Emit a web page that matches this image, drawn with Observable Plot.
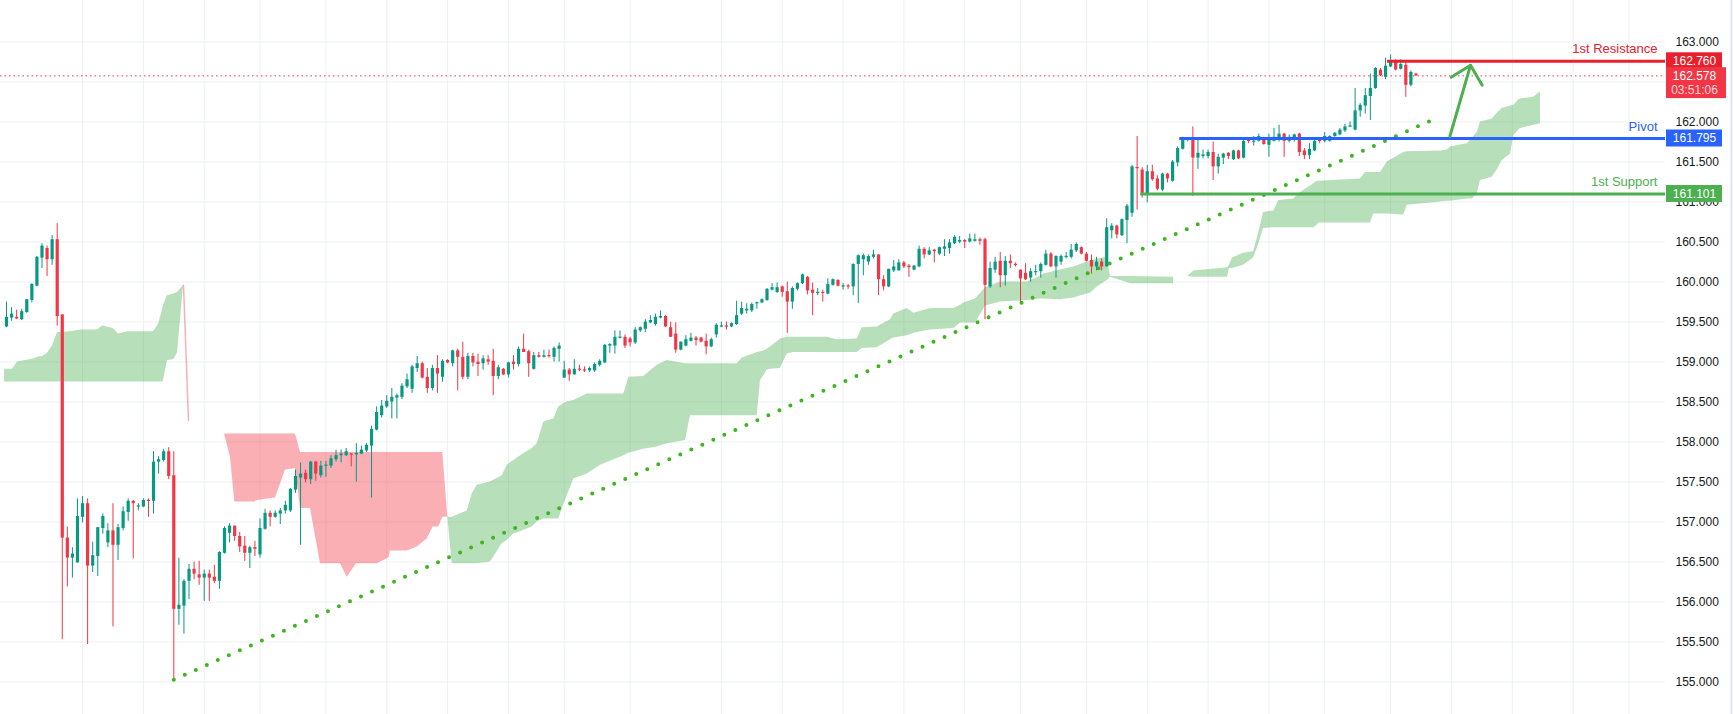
<!DOCTYPE html>
<html><head><meta charset="utf-8">
<script src="https://cdn.jsdelivr.net/npm/d3@7"></script>
<script src="https://cdn.jsdelivr.net/npm/@observablehq/plot@0.6"></script>
<style>
html,body{margin:0;padding:0;background:#fff;}
#chart{width:1733px;height:714px;overflow:hidden;position:relative;}
#chart svg{display:block;}
</style></head><body><div id="chart"></div>
<script>
// ---------- candle data ----------
const opens = [
159.44,159.55,159.56,159.53,159.62,159.77,159.95,160.30,160.42,160.28,
160.53,159.59,156.80,156.55,156.49,157.06,157.23,156.45,156.57,156.92,
156.74,156.89,156.71,156.92,157.12,157.26,157.19,157.19,157.27,157.26,
157.75,157.77,157.88,157.58,155.91,155.95,156.26,156.41,156.34,156.30,
156.35,156.31,156.26,156.61,156.86,156.95,156.82,156.70,156.61,156.68,
156.59,156.91,157.11,157.06,157.10,157.14,157.14,157.40,157.55,157.61,
157.53,157.75,157.58,157.70,157.70,157.78,157.83,157.83,157.85,157.84,
157.85,157.89,157.95,158.15,158.33,158.44,158.50,158.55,158.56,158.69,
158.66,158.92,158.98,158.81,158.67,158.92,158.81,159.02,158.98,159.14,
159.06,158.81,159.07,159.00,158.98,159.03,159.01,158.82,158.91,158.84,
159.00,158.97,159.16,159.13,158.91,159.08,159.06,159.08,159.06,159.16,
158.80,158.90,158.84,158.91,158.90,158.89,158.89,158.96,158.99,159.20,
159.20,159.30,159.31,159.29,159.24,159.39,159.41,159.49,159.47,159.55,
159.57,159.43,159.35,159.15,159.20,159.26,159.30,159.30,159.26,159.19,
159.34,159.44,159.45,159.44,159.47,159.60,159.64,159.64,159.73,159.74,
159.77,159.90,159.87,159.94,159.88,159.75,159.91,159.98,160.06,159.90,
159.86,159.87,159.85,159.96,160.02,159.94,159.95,159.94,160.22,160.28,
160.25,160.31,160.34,160.03,159.94,160.14,160.14,160.24,160.20,160.15,
160.19,160.41,160.34,160.40,160.35,160.41,160.42,160.48,160.50,160.52,
160.50,160.51,160.53,160.53,159.94,160.15,160.26,160.08,160.26,160.22,
160.15,160.11,160.05,160.12,160.13,160.21,160.35,160.19,160.25,160.31,
160.31,160.39,160.43,160.35,160.27,160.19,160.25,160.19,160.64,160.70,
160.58,160.77,160.86,161.43,161.40,161.10,161.38,161.29,161.15,161.35,
161.26,161.49,161.66,161.78,161.79,161.55,161.57,161.57,161.62,161.44,
161.55,161.61,161.53,161.64,161.55,161.77,161.75,161.76,161.80,161.71,
161.76,161.77,161.85,161.76,161.78,161.85,161.64,161.58,161.64,161.77,
161.76,161.76,161.82,161.84,161.89,161.94,161.90,162.14,162.20,162.32,
162.42,162.65,162.56,162.69,162.77,162.66,162.71,162.46,162.60];
const highs = [
159.75,159.68,159.65,159.66,159.78,159.98,160.32,160.48,160.45,160.58,
160.73,159.59,156.94,156.68,157.29,157.32,157.29,156.75,156.93,157.10,
156.98,157.23,156.97,157.19,157.29,157.27,157.23,157.29,157.29,157.88,
157.82,157.91,157.93,157.88,156.55,156.28,156.47,156.50,156.51,156.40,
156.40,156.46,156.63,156.94,156.98,156.95,156.87,156.82,156.70,156.76,
157.04,157.16,157.14,157.14,157.17,157.26,157.42,157.65,157.74,157.65,
157.76,157.76,157.76,157.76,157.83,157.90,157.90,157.92,157.86,157.98,
157.95,157.98,158.20,158.44,158.52,158.58,158.67,158.60,158.73,158.85,
158.96,159.07,159.00,158.92,158.96,159.08,159.03,159.03,159.15,159.16,
159.25,159.11,159.11,159.10,159.08,159.08,159.16,158.96,158.92,159.00,
159.08,159.19,159.35,159.15,159.12,159.12,159.15,159.15,159.19,159.24,
159.01,158.92,159.03,158.96,158.94,158.94,158.99,159.03,159.22,159.23,
159.39,159.39,159.34,159.31,159.43,159.44,159.53,159.58,159.60,159.64,
159.58,159.50,159.49,159.25,159.33,159.36,159.32,159.31,159.35,159.30,
159.48,159.50,159.50,159.49,159.76,159.75,159.73,159.74,159.75,159.79,
159.92,159.98,159.99,159.95,160.00,159.94,159.99,160.10,160.07,159.99,
159.92,159.90,160.04,160.04,160.03,159.98,159.97,160.23,160.34,160.35,
160.34,160.40,160.34,160.08,160.16,160.27,160.28,160.26,160.22,160.21,
160.45,160.43,160.43,160.41,160.44,160.53,160.53,160.58,160.57,160.53,
160.60,160.60,160.55,160.55,160.25,160.31,160.37,160.32,160.34,160.24,
160.15,160.23,160.17,160.21,160.24,160.40,160.37,160.33,160.34,160.37,
160.47,160.49,160.44,160.37,160.34,160.31,160.29,160.79,160.73,160.71,
160.79,160.97,161.46,161.82,161.43,161.46,161.46,161.33,161.36,161.36,
161.52,161.69,161.81,161.80,161.94,161.79,161.65,161.65,161.75,161.60,
161.61,161.62,161.65,161.65,161.77,161.79,161.82,161.85,161.81,161.85,
161.92,161.96,161.86,161.84,161.85,161.86,161.67,161.73,161.77,161.78,
161.87,161.83,161.87,161.92,161.97,162.00,162.42,162.23,162.42,162.60,
162.68,162.67,162.80,162.84,162.78,162.78,162.75,162.64,162.61];
const lows = [
159.43,159.51,159.53,159.52,159.61,159.74,159.94,160.17,160.07,160.21,
159.45,155.53,156.19,156.30,156.49,156.99,155.47,156.37,156.32,156.85,
156.68,155.69,156.52,156.89,157.01,156.54,157.14,157.18,157.06,157.10,
157.60,157.75,157.53,155.02,155.71,155.60,156.03,156.28,156.21,156.01,
156.01,156.23,156.16,156.60,156.74,156.76,156.62,156.51,156.42,156.57,
156.55,156.90,156.94,157.05,156.97,157.10,157.12,157.36,156.71,157.49,
157.47,157.51,157.55,157.56,157.67,157.75,157.74,157.82,157.69,157.50,
157.84,157.87,157.30,158.14,158.30,158.42,158.29,158.29,158.53,158.67,
158.61,158.87,158.79,158.61,158.64,158.61,158.75,158.98,158.94,158.64,
158.78,158.78,158.94,158.82,158.90,158.96,158.58,158.78,158.83,158.80,
158.90,158.94,159.12,158.81,158.90,159.05,159.05,159.05,159.00,159.00,
158.80,158.76,158.84,158.88,158.87,158.87,158.87,158.94,158.98,159.11,
159.10,159.29,159.17,159.19,159.22,159.37,159.37,159.48,159.45,159.54,
159.43,159.31,159.11,159.14,159.19,159.25,159.20,159.24,159.09,159.18,
159.30,159.43,159.40,159.43,159.46,159.58,159.60,159.62,159.66,159.73,
159.76,159.89,159.86,159.81,159.36,159.66,159.89,159.97,159.84,159.58,
159.83,159.75,159.84,159.95,159.94,159.90,159.91,159.83,159.73,160.08,
160.21,160.29,159.83,159.89,159.93,160.12,160.14,160.17,160.06,160.14,
160.18,160.29,160.33,160.24,160.33,160.32,160.35,160.47,160.48,160.42,
160.49,160.50,160.46,159.53,159.92,160.11,159.93,159.95,160.17,160.19,
159.73,160.02,160.00,160.08,160.05,160.20,160.18,160.05,160.21,160.29,
160.29,160.37,160.34,160.25,160.10,160.14,160.14,160.19,160.54,160.54,
160.57,160.48,160.81,160.90,161.05,160.99,161.26,161.14,161.13,161.24,
161.25,161.44,161.65,161.75,161.07,161.41,161.54,161.54,161.27,161.35,
161.47,161.53,161.52,161.53,161.54,161.73,161.70,161.75,161.71,161.56,
161.75,161.75,161.56,161.74,161.75,161.57,161.53,161.53,161.63,161.73,
161.74,161.75,161.81,161.83,161.87,161.93,161.89,162.06,162.10,162.02,
162.41,162.57,162.53,162.68,162.64,162.65,162.31,162.44,162.57];
const closes = [
159.56,159.60,159.54,159.63,159.78,159.97,160.31,160.45,160.28,160.53,
159.57,156.80,156.55,156.60,157.07,157.23,156.45,156.58,156.93,157.07,
156.89,156.71,156.93,157.13,157.26,157.23,157.20,157.27,157.26,157.75,
157.78,157.88,157.57,155.91,155.96,156.26,156.41,156.35,156.30,156.35,
156.30,156.26,156.62,156.92,156.95,156.82,156.69,156.61,156.68,156.66,
156.92,157.11,157.06,157.11,157.14,157.21,157.41,157.57,157.60,157.53,
157.75,157.60,157.70,157.71,157.79,157.83,157.85,157.88,157.84,157.86,
157.90,157.96,158.16,158.37,158.45,158.51,158.56,158.58,158.70,158.78,
158.94,158.98,158.80,158.67,158.92,158.85,159.01,158.99,159.14,159.06,
158.81,159.07,158.99,158.97,159.04,159.00,158.82,158.93,158.84,158.99,
158.97,159.16,159.12,158.98,159.08,159.06,159.08,159.07,159.17,159.20,
158.90,158.84,158.91,158.90,158.89,158.92,158.97,159.01,159.21,159.22,
159.31,159.31,159.20,159.24,159.40,159.43,159.50,159.52,159.56,159.57,
159.44,159.31,159.15,159.25,159.28,159.30,159.27,159.25,159.19,159.28,
159.46,159.45,159.44,159.48,159.58,159.67,159.66,159.72,159.74,159.78,
159.91,159.93,159.93,159.87,159.75,159.92,159.98,160.09,159.89,159.86,
159.87,159.86,159.97,160.03,159.95,159.95,159.94,160.22,160.33,160.33,
160.32,160.34,160.03,159.94,160.16,160.19,160.24,160.19,160.18,160.20,
160.41,160.34,160.39,160.38,160.43,160.44,160.49,160.56,160.52,160.50,
160.54,160.53,160.51,159.96,160.17,160.25,160.08,160.26,160.23,160.21,
160.04,160.03,160.13,160.13,160.22,160.35,160.19,160.32,160.32,160.32,
160.40,160.47,160.35,160.26,160.19,160.25,160.19,160.68,160.70,160.59,
160.78,160.95,161.44,161.42,161.11,161.38,161.28,161.16,161.35,161.29,
161.50,161.67,161.80,161.79,161.55,161.61,161.59,161.62,161.44,161.56,
161.60,161.57,161.64,161.54,161.76,161.76,161.76,161.82,161.72,161.78,
161.81,161.85,161.76,161.81,161.84,161.62,161.58,161.66,161.76,161.76,
161.82,161.82,161.86,161.90,161.94,161.95,162.14,162.21,162.33,162.42,
162.67,162.58,162.70,162.75,162.65,162.72,162.46,162.62,162.578];

// ---------- Ichimoku cloud outlines (bar index, upper, lower) ----------
const cloudA_i   = [-0.39,1.18,2.17,3.75,5.33,6.11,7.10,8.09,9.07,10.06,12.62,14.60,17.95,18.93,21.10,22.09,24.06,28.99,29.98,30.77,30.97,31.76,32.94,33.73,34.91];
const cloudA_top = [158.91,158.91,159.00,159.02,159.04,159.06,159.07,159.11,159.20,159.37,159.38,159.40,159.40,159.45,159.42,159.35,159.38,159.38,159.47,159.65,159.71,159.83,159.85,159.87,159.96];
const cloudA_bot = [158.75,158.75,158.75,158.75,158.75,158.75,158.75,158.75,158.75,158.75,158.75,158.75,158.75,158.75,158.75,158.75,158.75,158.75,158.75,158.75,158.77,159.02,159.03,159.11,159.96];

const sliver_i = [34.91, 35.9];
const sliver_v = [159.96, 158.27];

const cloudB_i   = [43.0,44.18,45.03,48.92,49.51,53.06,55.03,57.0,57.99,59.96,61.93,65.88,67.2,69.03,73.1,75.4,75.74,79.03,81.0,82.98,84.16,85.27,86.06,87.04];
const cloudB_top = [158.10,158.10,158.10,158.10,158.10,158.10,158.10,158.10,157.87,157.87,157.87,157.87,157.87,157.87,157.87,157.87,157.87,157.87,157.87,157.87,157.87,157.87,157.87,157.06];
const cloudB_bot = [158.10,157.81,157.25,157.25,157.27,157.30,157.65,157.67,157.17,157.17,156.48,156.48,156.31,156.48,156.48,156.55,156.64,156.64,156.69,156.79,156.94,156.94,157.06,157.06];

const cloudC_i   = [87.04,87.91,90.87,91.85,92.84,95.46,97.77,98.76,100.06,101.38,103.69,104.67,105.98,107.95,108.93,109.86,110.59,111.89,114.54,117.16,121.76,122.75,125.7,128.34,130.32,133.93,134.91,144.12,145.11,147.40,148.07,148.72,149.37,150.04,150.69,152.66,153.98,155.28,161.87,163.84,167.79,168.78,171.74,174.36,175.0,177.65,178.95,182.25,186.85,188.17,188.82,191.12,193.1,196.06,201.32,203.94,204.6,207.89,210.51,213.16,213.81,215.13,217.1,217.75,221.7,230.18];
const cloudC_top = [157.06,157.06,157.14,157.35,157.46,157.50,157.58,157.71,157.77,157.83,157.92,157.98,158.25,158.29,158.44,158.48,158.50,158.52,158.60,158.60,158.60,158.81,158.82,158.96,159.02,158.98,158.98,158.98,159.05,159.10,159.12,159.13,159.14,159.16,159.19,159.29,159.31,159.31,159.31,159.28,159.29,159.43,159.44,159.53,159.60,159.67,159.61,159.67,159.67,159.71,159.74,159.79,159.93,160.00,160.00,160.07,160.10,160.15,160.19,160.25,160.26,160.29,160.31,160.07,160.07,160.06];
const cloudC_bot = [157.06,156.48,156.48,156.48,156.48,156.50,156.73,156.77,156.85,156.88,156.94,157.00,157.04,157.04,157.04,157.21,157.33,157.54,157.60,157.71,157.83,157.86,157.91,157.94,157.98,158.02,158.33,158.33,158.33,158.33,158.33,158.77,158.83,158.90,158.91,158.92,159.10,159.12,159.12,159.12,159.12,159.17,159.18,159.28,159.30,159.33,159.36,159.40,159.42,159.49,159.49,159.49,159.70,159.75,159.77,159.79,159.79,159.78,159.80,159.85,159.86,159.94,160.02,160.06,159.98,159.98];

const cloudD_i   = [232.99,234.18,240.83,241.22,241.81,243.98,245.96,246.94,247.93,249.96,250.95,253.9,255.23,257.85,258.52,258.84,267.06,268.05,269.03,269.68,271.01,272.33,275.6,276.27,282.84,284.16,284.81,288.11,289.15,290.08,290.73,293.04,294.02,295.01,296.65,297.3,298.29,298.62,301.24,302.56];
const cloudD_top = [160.07,160.14,160.18,160.21,160.30,160.36,160.38,160.60,160.87,160.89,161.02,161.04,161.12,161.23,161.26,161.26,161.29,161.37,161.37,161.37,161.37,161.50,161.62,161.63,161.64,161.65,161.69,161.73,161.80,161.87,162.00,162.04,162.11,162.17,162.20,162.21,162.28,162.29,162.31,162.38];
const cloudD_bot = [160.07,160.06,160.06,160.17,160.17,160.21,160.30,160.46,160.67,160.68,160.68,160.68,160.68,160.68,160.71,160.74,160.74,160.74,160.74,160.85,160.85,160.85,160.84,160.96,161.00,161.01,161.01,161.04,161.04,161.10,161.27,161.31,161.40,161.52,161.60,161.83,161.90,161.92,161.96,161.98];

// ---------- drawings ----------
const trend_i = [33, 281.7];
const trend_v = [155.03, 162.04];
const arrowShaft_i = [284.68, 288.76];
const arrowShaft_v = [161.82, 162.71];
const arrowHead_i = [284.95, 288.76, 291.06];
const arrowHead_v = [162.56, 162.71, 162.46];

const levelNames  = ["1st Resistance", "Pivot", "1st Support"];
const levelValues = [162.760, 161.795, 161.101];
const levelStart  = [272.4, 231.4, 223.7];
const levelColors = ["#e8202e", "#2962ff", "#4caf50"];

const lastPrice = 162.578;
const countdown = "03:51:06";

const priceTicks = d3.range(155, 163.001, 0.5);
const priceLabels = [155, 155.5, 156, 156.5, 157, 157.5, 158, 158.5, 159, 159.5, 160, 160.5, 161, 161.5, 162, 163]; // 162.500 sits under the live-price tag
const timeGrid = [15,27,39,50,63,75,87,99,110,123,141,153,165,177,189,200,213,225,237,249,260,273,285,297,309,320];

// ---------- build tables ----------
const candles = opens.map((o, i) => ({i, open: o, high: highs[i], low: lows[i], close: closes[i]}));
const UP = "#089981", DOWN = "#f23645";
const colorOf = d => d.close >= d.open ? UP : DOWN;
const seg = (is, tops, bots) => is.map((i, k) => ({i, top: tops[k], bot: bots[k]}));
const pts = (is, vs, z) => is.map((i, k) => ({i, v: vs[k], z}));
const levels = levelNames.map((name, k) => ({name, value: levelValues[k], start: levelStart[k], color: levelColors[k]}));

// ---------- layout ----------
const W = 1733, H = 714, AXIS_W = 68;
const X0 = 6, DX = 5.07;              // first bar centre, bar spacing (px)
const PX_PER_UNIT = 80;
const frameW = W - AXIS_W;
const px2i = p => (p - X0) / DX;
const yTop = 163.52, yBottom = yTop - H / PX_PER_UNIT;
const halfBox = 8.5 / PX_PER_UNIT;
const minBody = 1.2 / PX_PER_UNIT;
const bodyLo = d => { const lo = Math.min(d.open, d.close), hi = Math.max(d.open, d.close); return hi - lo < minBody ? (lo + hi) / 2 - minBody / 2 : lo; };
const bodyHi = d => { const lo = Math.min(d.open, d.close), hi = Math.max(d.open, d.close); return hi - lo < minBody ? (lo + hi) / 2 + minBody / 2 : hi; };

const font = "'Liberation Sans', Arial, sans-serif";

const plot = Plot.plot({
  width: W, height: H,
  marginTop: 0, marginBottom: 0, marginLeft: 0, marginRight: AXIS_W,
  x: {type: "linear", domain: [px2i(0), px2i(frameW)], axis: null},
  y: {type: "linear", domain: [yBottom, yTop], axis: null},
  style: {fontFamily: font, fontSize: "12px", color: "#131722", background: "#ffffff", overflow: "visible"},
  marks: [
    Plot.ruleY(priceTicks, {stroke: "#eef0f3", strokeWidth: 1}),
    Plot.ruleX(timeGrid, {stroke: "#eef0f3", strokeWidth: 1}),
    Plot.areaY(seg(cloudA_i, cloudA_top, cloudA_bot), {x: "i", y1: "bot", y2: "top", fill: "#4caf50", fillOpacity: 0.4}),
    Plot.line(pts(sliver_i, sliver_v, "s"), {x: "i", y: "v", stroke: "#f23645", strokeOpacity: 0.4, strokeWidth: 1.5}),
    Plot.areaY(seg(cloudB_i, cloudB_top, cloudB_bot), {x: "i", y1: "bot", y2: "top", fill: "#f23645", fillOpacity: 0.4}),
    Plot.areaY(seg(cloudC_i, cloudC_top, cloudC_bot), {x: "i", y1: "bot", y2: "top", fill: "#4caf50", fillOpacity: 0.4}),
    Plot.areaY(seg(cloudD_i, cloudD_top, cloudD_bot), {x: "i", y1: "bot", y2: "top", fill: "#4caf50", fillOpacity: 0.4}),
    Plot.ruleY([lastPrice], {stroke: "#f23645", strokeWidth: 1, strokeDasharray: "1.5,3"}),
    Plot.ruleX(candles, {x: "i", y1: "low", y2: "high", stroke: colorOf, strokeWidth: 1}),
    Plot.ruleX(candles, {x: "i", y1: bodyLo, y2: bodyHi, stroke: colorOf, strokeWidth: 3.2}),
    Plot.line(pts(trend_i, trend_v, "t"), {x: "i", y: "v", stroke: "#3cb51f", strokeWidth: 4, strokeDasharray: "0,12.05", strokeLinecap: "round"}),
    Plot.ruleY(levels, {y: "value", x1: "start", x2: () => px2i(frameW), stroke: "color", strokeWidth: 3}),
    Plot.line([...pts(arrowShaft_i, arrowShaft_v, "a"), ...pts(arrowHead_i, arrowHead_v, "b")], {x: "i", y: "v", z: "z", stroke: "#4caf50", strokeWidth: 3, strokeLinecap: "round", strokeLinejoin: "miter"}),
    Plot.text(levels, {y: "value", text: "name", frameAnchor: "right", dx: -8, dy: -12, textAnchor: "end", fill: "color", fontSize: 13}),
    // price axis labels
    Plot.text(priceLabels, {y: d => d, text: d => d.toFixed(3), frameAnchor: "right", dx: 10, textAnchor: "start", fill: "#131722", fontSize: 12}),
    // level boxes on the axis
    Plot.rect(levels, {x1: () => px2i(1666), x2: () => px2i(1722), y1: d => d.value - halfBox, y2: d => d.value + halfBox, fill: "color"}),
    Plot.rect([lastPrice], {x1: () => px2i(1666), x2: () => px2i(1726), y1: d => d - 0.284, y2: d => d + 0.102, fill: "#f23645"}),
    Plot.text(levels, {y: "value", text: d => d.value.toFixed(3), frameAnchor: "right", dx: 29, textAnchor: "middle", fill: "#ffffff", fontSize: 12}),
    Plot.text([lastPrice], {y: d => d, text: d => d.toFixed(3), frameAnchor: "right", dx: 29, textAnchor: "middle", fill: "#ffffff", fontSize: 12}),
    Plot.text([lastPrice], {y: d => d, text: () => countdown, frameAnchor: "right", dx: 29, dy: 14, textAnchor: "middle", fill: "#ffffff", fillOpacity: 0.8, fontSize: 12})
  ]
});

d3.select(plot).append("line")
  .attr("x1", W - 1.5).attr("x2", W - 1.5).attr("y1", 0).attr("y2", H)
  .attr("stroke", "#e0e3eb").attr("stroke-width", 2);

document.getElementById("chart").appendChild(plot);
</script>
</body></html>
